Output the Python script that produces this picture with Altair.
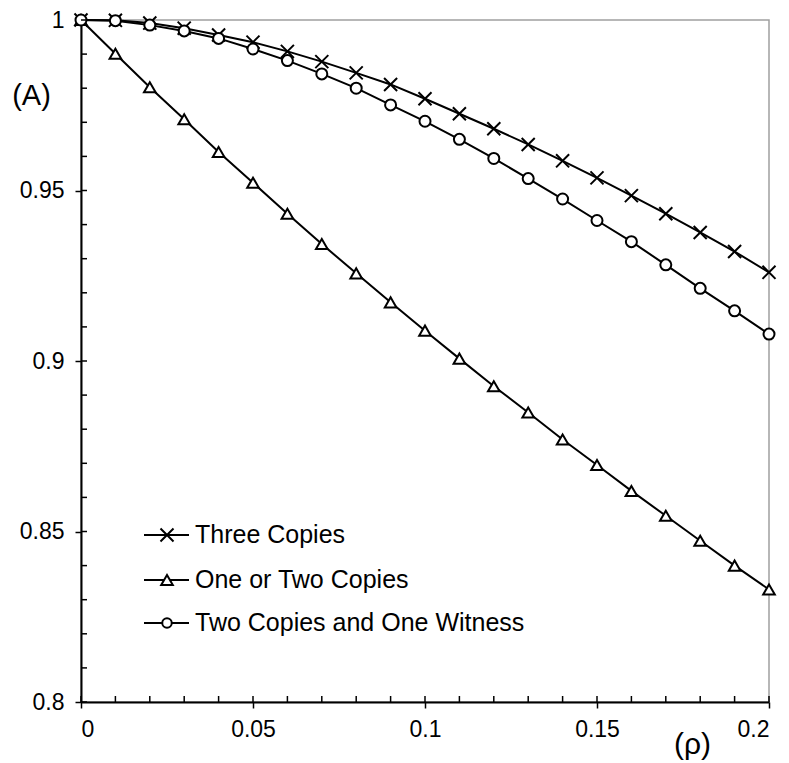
import altair as alt
import pandas as pd

rho = [0.00, 0.01, 0.02, 0.03, 0.04, 0.05, 0.06, 0.07, 0.08, 0.09, 0.10,
       0.11, 0.12, 0.13, 0.14, 0.15, 0.16, 0.17, 0.18, 0.19, 0.20]
three_copies = [1.0000, 0.9999, 0.9991, 0.9976, 0.9956, 0.9935, 0.9908, 0.9878, 0.9845, 0.9811, 0.9769,
                0.9725, 0.9681, 0.9635, 0.9587, 0.9537, 0.9485, 0.9432, 0.9377, 0.9321, 0.9260]
one_or_two = [1.0000, 0.9901, 0.9803, 0.9709, 0.9613, 0.9523, 0.9432, 0.9343, 0.9257, 0.9172, 0.9089,
              0.9007, 0.8926, 0.8849, 0.8770, 0.8695, 0.8619, 0.8546, 0.8473, 0.8400, 0.8330]
two_witness = [1.0000, 0.9998, 0.9985, 0.9968, 0.9946, 0.9915, 0.9881, 0.9842, 0.9800, 0.9751, 0.9703,
               0.9650, 0.9594, 0.9535, 0.9475, 0.9412, 0.9350, 0.9282, 0.9213, 0.9147, 0.9079]

series_names = ["Three Copies", "One or Two Copies", "Two Copies and One Witness"]
x_major = [0, 0.05, 0.1, 0.15, 0.2]
y_major = [0.8, 0.85, 0.9, 0.95, 1.0]
y_minor = [0.80, 0.81, 0.82, 0.83, 0.84, 0.85, 0.86, 0.87, 0.88, 0.89, 0.90,
           0.91, 0.92, 0.93, 0.94, 0.95, 0.96, 0.97, 0.98, 0.99, 1.00]

X_PATH = "M-1,-1L1,1M-1,1L1,-1"
FONT = "Liberation Sans"

rows = []
for name, vals in zip(series_names, [three_copies, one_or_two, two_witness]):
    for r, v in zip(rho, vals):
        rows.append({"rho": r, "A": v, "series": name})
df = pd.DataFrame(rows)

TOP = 12
W, H = 688, 682
xs = alt.Scale(domain=[0, 0.2], nice=False, zero=False)
ys = alt.Scale(domain=[0.8, 1.0], nice=False, zero=False)

x_enc = alt.X("rho:Q", scale=xs, axis=alt.Axis(
    values=x_major, format=".2~f", tickSize=6, tickWidth=1.5, tickColor="black",
    domainColor="black", domainWidth=2, grid=False, labelFont=FONT, labelFontSize=23,
    labelColor="black", labelPadding=10, title="(ρ)", titleFont=FONT, titleFontSize=30,
    titleFontWeight="normal", titleColor="black", titleX=611, titleY=42,
    titleAlign="center", titleBaseline="middle"))
y_enc = alt.Y("A:Q", scale=ys, axis=alt.Axis(
    values=y_major, format=".2~f", tickSize=6, tickWidth=1.5, tickColor="black",
    domainColor="black", domainWidth=2, grid=False, labelFont=FONT, labelFontSize=23,
    labelColor="black", labelPadding=11, title="(A)", titleFont=FONT, titleFontSize=29,
    titleFontWeight="normal", titleColor="black", titleAngle=0, titleX=-50, titleY=75,
    titleAlign="center", titleBaseline="middle"))

lines = alt.Chart(df).mark_line(color="black", strokeWidth=2).encode(
    x=x_enc, y=y_enc, detail="series:N")

def pts(name, shape, size):
    return alt.Chart(df).transform_filter(alt.datum.series == name).mark_point(
        shape=shape, size=size, filled=True, fill="white", stroke="black",
        strokeWidth=2, opacity=1).encode(x="rho:Q", y="A:Q")

p_x = pts("Three Copies", X_PATH, 170)
p_t = pts("One or Two Copies", "triangle-up", 135)
p_c = pts("Two Copies and One Witness", "circle", 121)

# inward minor/major ticks
tick_x_df = pd.DataFrame({"t": rho})
tick_y_df = pd.DataFrame({"t": y_minor})
ticks_x = alt.Chart(tick_x_df).mark_rule(color="black", strokeWidth=1.5).encode(
    x="t:Q", y=alt.value(H), y2=alt.value(H - 6))
ticks_y = alt.Chart(tick_y_df).mark_rule(color="black", strokeWidth=1.5).encode(
    y="t:Q", x=alt.value(0), x2=alt.value(6))

# legend
leg_shapes = [(X_PATH, 170), ("triangle-up", 135), ("circle", 90)]
leg_rows_y = [515, 560, 603]
legend_layers = []
one = pd.DataFrame({"k": [0]})
for name, (shape, size), ly in zip(series_names, leg_shapes, leg_rows_y):
    legend_layers.append(alt.Chart(one).mark_rule(color="black", strokeWidth=2).encode(
        x=alt.value(63), x2=alt.value(108), y=alt.value(ly)))
    legend_layers.append(alt.Chart(one).mark_point(
        shape=shape, size=size, filled=True, fill="white", stroke="black",
        strokeWidth=2, opacity=1).encode(x=alt.value(86), y=alt.value(ly)))
    legend_layers.append(alt.Chart(one).mark_text(
        text=name, font=FONT, fontSize=25, align="left", baseline="middle",
        color="black").encode(x=alt.value(114), y=alt.value(ly)))

chart = alt.layer(lines, p_x, p_t, p_c, ticks_x, ticks_y, *legend_layers).properties(
    width=W, height=H,
    autosize=alt.AutoSizeParams(type="none"),
    padding={"left": 73, "top": TOP, "right": 12, "bottom": 60},
    background="white",
).configure_view(stroke="#a0a0a0", strokeWidth=1.5)

chart.save("out.html", embed_options={"renderer": "svg", "actions": False})
